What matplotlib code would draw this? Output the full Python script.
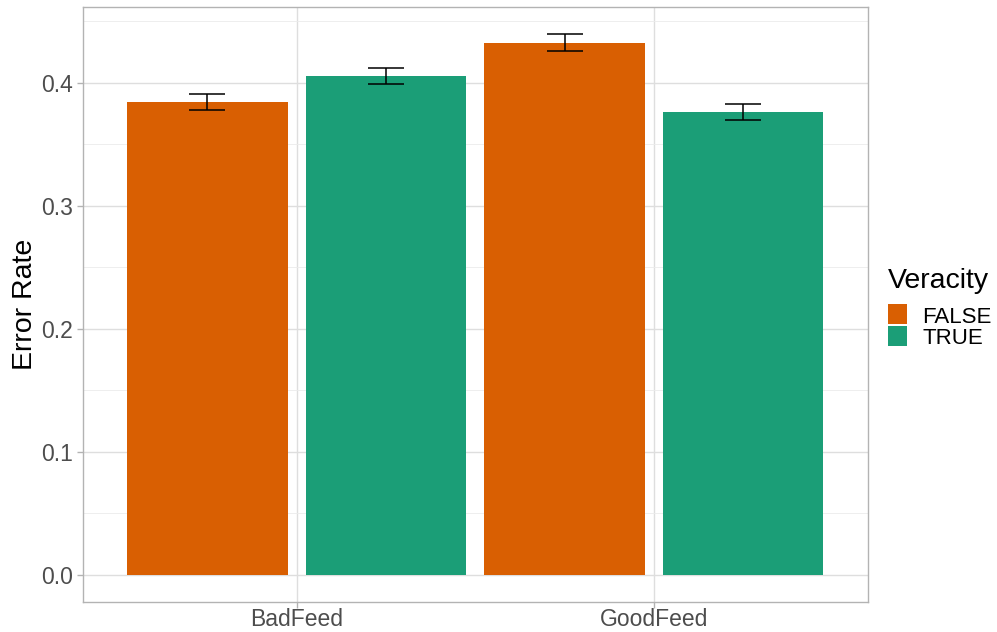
import matplotlib
matplotlib.use('Agg')
import matplotlib.pyplot as plt
import numpy as np
from matplotlib.patches import Rectangle

feeds = ['BadFeed', 'GoodFeed']
veracity = ['FALSE', 'TRUE']
error_false = [0.3845, 0.4324]
error_true = [0.4056, 0.3764]
se_false = [0.0066, 0.0068]
se_true = [0.0067, 0.0066]
colors = ['#D95F02', '#1B9E77']

plt.rcParams['font.family'] = ['Liberation Sans', 'DejaVu Sans']

W, H = 997, 632
fig = plt.figure(figsize=(W / 100, H / 100), dpi=100)
ax = fig.add_axes([82.5 / W, 1 - 601.5 / H, (868 - 82.5) / W, (601.5 - 7) / H])

x = np.arange(1, len(feeds) + 1)
offset = 0.25
width = 0.45
for vals, ses, dx, col in [(error_false, se_false, -offset, colors[0]),
                           (error_true, se_true, offset, colors[1])]:
    ax.bar(x + dx, vals, width=width, color=col, zorder=2)
    ax.errorbar(x + dx, vals, yerr=ses, fmt='none', ecolor='black',
                elinewidth=1.1, capsize=13, capthick=1.1, zorder=3)

ax.set_xlim(0.4, 2.6)
ax.set_ylim(-0.0215, 0.4615)
ax.set_xticks(x)
ax.set_xticklabels(feeds)
ax.set_yticks([0.0, 0.1, 0.2, 0.3, 0.4])
ax.set_yticklabels(['0.0', '0.1', '0.2', '0.3', '0.4'])
ax.set_yticks([0.05, 0.15, 0.25, 0.35, 0.45], minor=True)

ax.grid(which='major', color='#DEDEDE', linewidth=1.0, zorder=0)
ax.grid(which='minor', axis='y', color='#EBEBEB', linewidth=0.6, zorder=0)
ax.set_axisbelow(True)
for s in ax.spines.values():
    s.set_color('#B3B3B3')
    s.set_linewidth(1.0)
ax.tick_params(which='major', color='#B3B3B3', length=4, width=1.0,
               labelsize=16.5, labelcolor='#4D4D4D', pad=3)
ax.tick_params(axis='x', pad=0.5)
ax.tick_params(which='minor', length=0)

ax.set_ylabel('Error Rate', fontsize=20.5, color='black', labelpad=2)

# legend drawn by hand in pixel units
def px(xp, yp):
    return xp / W, 1 - yp / H

fig.text(*px(888, 288), 'Veracity', fontsize=20.5, color='black', va='baseline')
for i, (lab, col) in enumerate(zip(veracity, colors)):
    x0, y0 = px(888, 324 + 22 * i)
    fig.add_artist(Rectangle((x0, y0), 19 / W, 20 / H, transform=fig.transFigure,
                             facecolor=col, edgecolor='none'))
    fig.text(*px(922, 322.5 + 22 * i), lab, fontsize=16, color='black', va='baseline')

fig.savefig('out.png', dpi=100)
